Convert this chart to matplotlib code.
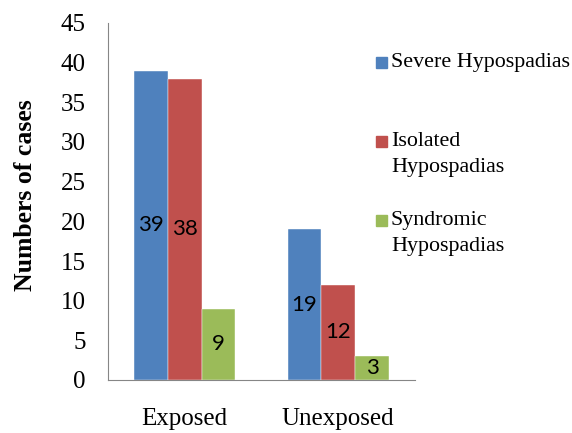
import matplotlib.pyplot as plt
from matplotlib.patches import Rectangle
import numpy as np

groups = ["Exposed", "Unexposed"]
series = ["Severe Hypospadias", "Isolated\nHypospadias", "Syndromic\nHypospadias"]
severe = [39, 19]
isolated = [38, 12]
syndromic = [9, 3]
colors = ["#4F81BD", "#C0504D", "#9BBB59"]

serif = "Liberation Serif"
W, H = 572, 433

fig = plt.figure(figsize=(W / 100, H / 100), dpi=100)
ax = fig.add_axes([108 / W, 1 - 380 / H, 307 / W, 357 / H])

x = np.arange(len(groups))
w = 0.22
for i, vals in enumerate([severe, isolated, syndromic]):
    bars = ax.bar(x + (i - 1) * w, vals, w, color=colors[i],
                  edgecolor="white", linewidth=0.3)
    for b, v in zip(bars, vals):
        ax.text(b.get_x() + b.get_width() / 2, v / 2, str(v), ha="center",
                va="center", fontsize=16, family="Lato")

ax.set_xlim(-0.5, 1.5)
ax.set_ylim(0, 45)
ax.set_yticks(range(0, 46, 5))
ax.set_xticks(x)
ax.set_xticklabels(groups)
for lab in ax.get_xticklabels() + ax.get_yticklabels():
    lab.set_family(serif)
    lab.set_fontsize(18)
ax.tick_params(axis="y", length=0, pad=16)
ax.tick_params(axis="x", length=0, pad=20)
for s in ["top", "right"]:
    ax.spines[s].set_visible(False)
for s in ["left", "bottom"]:
    ax.spines[s].set_color("#868686")
ax.set_ylabel("Numbers of cases", family=serif, fontsize=18.5, fontweight="bold")
ax.yaxis.set_label_coords(-0.23, 0.518)

# legend drawn by hand so the square sits beside the first line
tops = [53, 132, 211]
for name, col, t in zip(series, colors, tops):
    fig.patches.append(Rectangle((376 / W, 1 - (t + 15) / H), 11 / W, 11 / H,
                                 transform=fig.transFigure, color=col))
    fig.text(391 / W, 1 - t / H, name, family=serif, fontsize=15.8,
             va="top", ha="left", linespacing=1.5)

fig.savefig("out.png")
